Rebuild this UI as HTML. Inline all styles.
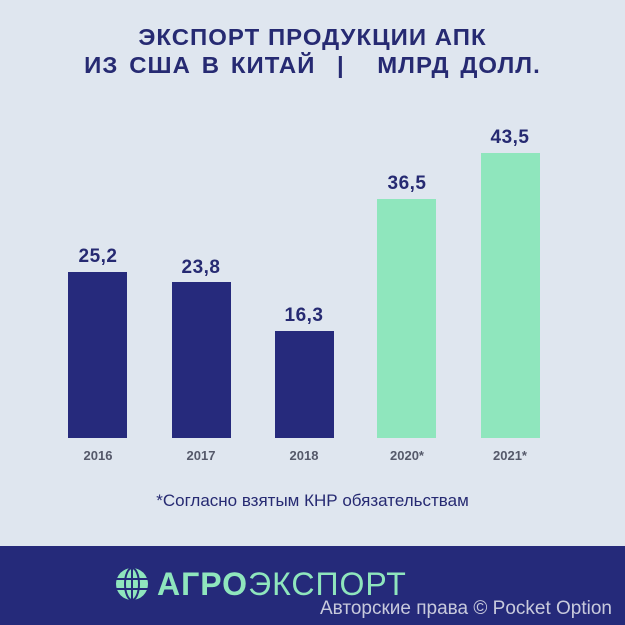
<!DOCTYPE html>
<html><head><meta charset="utf-8"><style>
body{margin:0;width:625px;height:625px;overflow:hidden;background:#dfe6ef;font-family:"Liberation Sans","Noto Sans CJK SC",sans-serif;position:relative}
.t{position:absolute;left:0;width:625px;text-align:center;color:#262a72;font-weight:bold;font-size:23px;letter-spacing:1px;transform:scaleX(1.04)}
.b{position:absolute;width:59px;bottom:187px}
.n{background:#262a7c}.g{background:#8fe6bd}
.v{position:absolute;width:100px;text-align:center;font-weight:bold;font-size:19px;color:#262a72;letter-spacing:0.5px}
.y{position:absolute;top:448px;width:100px;text-align:center;font-weight:bold;font-size:13px;color:#55596a}
</style></head><body>
<div class="t" style="top:24px">ЭКСПОРТ ПРОДУКЦИИ АПК</div>
<div class="t" style="top:52px;word-spacing:3px">ИЗ США В КИТАЙ &nbsp;| &nbsp; МЛРД ДОЛЛ.</div>
<div class="b n" style="left:68px;top:272px"></div>
<div class="b n" style="left:172px;top:282px"></div>
<div class="b n" style="left:275px;top:331px"></div>
<div class="b g" style="left:377px;top:199px"></div>
<div class="b g" style="left:481px;top:153px"></div>
<div class="v" style="left:48px;top:246px">25,2</div>
<div class="v" style="left:151px;top:257px">23,8</div>
<div class="v" style="left:254px;top:305px">16,3</div>
<div class="v" style="left:357px;top:173px">36,5</div>
<div class="v" style="left:460px;top:127px">43,5</div>
<div class="y" style="left:48px">2016</div>
<div class="y" style="left:151px">2017</div>
<div class="y" style="left:254px">2018</div>
<div class="y" style="left:357px">2020*</div>
<div class="y" style="left:460px">2021*</div>
<div style="position:absolute;top:491px;left:0;width:625px;text-align:center;font-size:17px;color:#262a72">*Согласно взятым КНР обязательствам</div>
<div style="position:absolute;top:546px;left:0;width:625px;height:79px;background:#252a7a"></div>
<svg style="position:absolute;left:115px;top:567px" width="36" height="34" viewBox="0 0 36 34"><circle cx="17" cy="17" r="16" fill="#8fe6bd"/><g stroke="#252a7a" stroke-width="2" fill="none"><ellipse cx="17" cy="17" rx="7" ry="16"/><line x1="17" y1="1" x2="17" y2="33"/><line x1="1" y1="12" x2="33" y2="12"/><line x1="1" y1="22" x2="33" y2="22"/></g></svg>
<div style="position:absolute;left:157px;top:566px;font-size:32px;color:#8fe6bd;letter-spacing:1px;white-space:nowrap"><b>АГРО</b>ЭКСПОРТ</div>
<div style="position:absolute;left:0;width:612px;text-align:right;top:598px;font-size:19px;color:#c8cadc">Авторские права © Pocket Option</div>
</body></html>
